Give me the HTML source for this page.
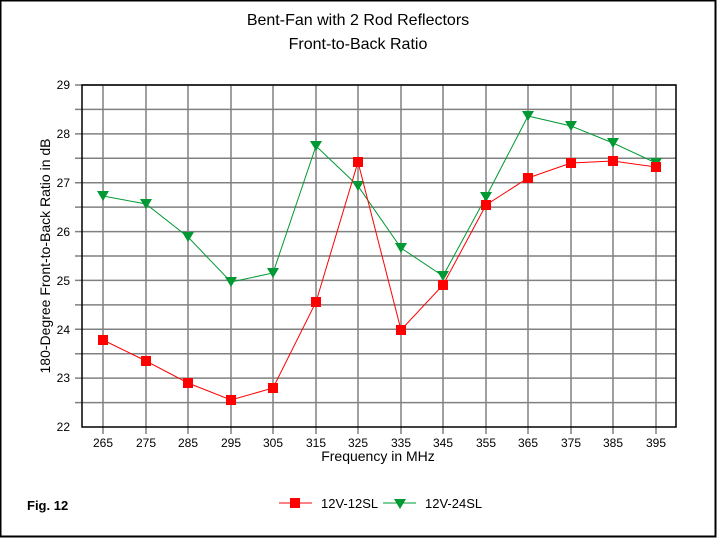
<!DOCTYPE html>
<html><head><style>body{margin:0;background:#fff}svg{display:block}</style></head><body>
<svg width="717" height="538" xmlns="http://www.w3.org/2000/svg" font-family="Liberation Sans, Arial, sans-serif">
<rect x="0.5" y="0.5" width="715" height="536" fill="#fff" stroke="#000" stroke-width="2"/>
<text x="358" y="25" font-size="16" text-anchor="middle">Bent-Fan with 2 Rod Reflectors</text>
<text x="358" y="49" font-size="16" text-anchor="middle">Front-to-Back Ratio</text>
<g stroke="#808080" stroke-width="1.5">
<line x1="103" y1="85" x2="103" y2="434"/><line x1="146" y1="85" x2="146" y2="434"/><line x1="188" y1="85" x2="188" y2="434"/><line x1="231" y1="85" x2="231" y2="434"/><line x1="273" y1="85" x2="273" y2="434"/><line x1="316" y1="85" x2="316" y2="434"/><line x1="358" y1="85" x2="358" y2="434"/><line x1="401" y1="85" x2="401" y2="434"/><line x1="443" y1="85" x2="443" y2="434"/><line x1="486" y1="85" x2="486" y2="434"/><line x1="528" y1="85" x2="528" y2="434"/><line x1="571" y1="85" x2="571" y2="434"/><line x1="613" y1="85" x2="613" y2="434"/><line x1="656" y1="85" x2="656" y2="434"/>
<line x1="75" y1="85" x2="676" y2="85"/><line x1="75" y1="109.4" x2="676" y2="109.4"/><line x1="75" y1="133.9" x2="676" y2="133.9"/><line x1="75" y1="158.3" x2="676" y2="158.3"/><line x1="75" y1="182.7" x2="676" y2="182.7"/><line x1="75" y1="207.1" x2="676" y2="207.1"/><line x1="75" y1="231.6" x2="676" y2="231.6"/><line x1="75" y1="256" x2="676" y2="256"/><line x1="75" y1="280.4" x2="676" y2="280.4"/><line x1="75" y1="304.9" x2="676" y2="304.9"/><line x1="75" y1="329.3" x2="676" y2="329.3"/><line x1="75" y1="353.7" x2="676" y2="353.7"/><line x1="75" y1="378.1" x2="676" y2="378.1"/><line x1="75" y1="402.6" x2="676" y2="402.6"/>
</g>
<rect x="82" y="85" width="594" height="342" fill="none" stroke="#000" stroke-width="1.5"/>
<g font-size="12" text-anchor="end">
<text x="70" y="89">29</text><text x="70" y="138">28</text><text x="70" y="187">27</text><text x="70" y="236">26</text><text x="70" y="285">25</text><text x="70" y="334">24</text><text x="70" y="382">23</text><text x="70" y="431">22</text>
</g>
<g font-size="12" text-anchor="middle">
<text x="103" y="447">265</text><text x="146" y="447">275</text><text x="188" y="447">285</text><text x="231" y="447">295</text><text x="273" y="447">305</text><text x="316" y="447">315</text><text x="358" y="447">325</text><text x="401" y="447">335</text><text x="443" y="447">345</text><text x="486" y="447">355</text><text x="528" y="447">365</text><text x="571" y="447">375</text><text x="613" y="447">385</text><text x="656" y="447">395</text>
</g>
<text x="378" y="461" font-size="14" text-anchor="middle">Frequency in MHz</text>
<text transform="translate(50,256) rotate(-90)" font-size="14" text-anchor="middle">180-Degree Front-to-Back Ratio in dB</text>
<polyline fill="none" stroke="#009933" stroke-width="1" points="103,196 146,204 188,237 231,282 273,273 316,146 358,186 401,248 443,276 486,197 528,116 571,126 613,143 656,163"/>
<g fill="#009933">
<path d="M97,191h12l-6,10z"/>
<path d="M140,199h12l-6,10z"/><path d="M182,232h12l-6,10z"/><path d="M225,277h12l-6,10z"/><path d="M267,268h12l-6,10z"/><path d="M310,141h12l-6,10z"/><path d="M352,181h12l-6,10z"/><path d="M395,243h12l-6,10z"/><path d="M437,271h12l-6,10z"/><path d="M480,192h12l-6,10z"/><path d="M522,111h12l-6,10z"/><path d="M565,121h12l-6,10z"/><path d="M607,138h12l-6,10z"/><path d="M650,158h12l-6,10z"/>
</g>
<polyline fill="none" stroke="#ff0000" stroke-width="1" points="103,340 146,361 188,383 231,400 273,388 316,302 358,162 401,330 443,285 486,205 528,178 571,163 613,161 656,167"/>
<g fill="#ff0000">
<rect x="98" y="335" width="10" height="10"/><rect x="141" y="356" width="10" height="10"/><rect x="183" y="378" width="10" height="10"/><rect x="226" y="395" width="10" height="10"/><rect x="268" y="383" width="10" height="10"/><rect x="311" y="297" width="10" height="10"/><rect x="353" y="157" width="10" height="10"/><rect x="396" y="325" width="10" height="10"/><rect x="438" y="280" width="10" height="10"/><rect x="481" y="200" width="10" height="10"/><rect x="523" y="173" width="10" height="10"/><rect x="566" y="158" width="10" height="10"/><rect x="608" y="156" width="10" height="10"/><rect x="651" y="162" width="10" height="10"/>
</g>
<text x="27" y="510" font-size="13" font-weight="bold">Fig. 12</text>
<line x1="279" y1="503" x2="312" y2="503" stroke="#ff0000"/>
<rect x="290" y="498" width="10" height="10" fill="#ff0000"/>
<text x="321" y="508" font-size="13">12V-12SL</text>
<line x1="383" y1="503" x2="416" y2="503" stroke="#009933"/>
<path d="M394,499h12l-6,10z" fill="#009933"/>
<text x="425" y="508" font-size="13">12V-24SL</text>
</svg>
</body></html>
